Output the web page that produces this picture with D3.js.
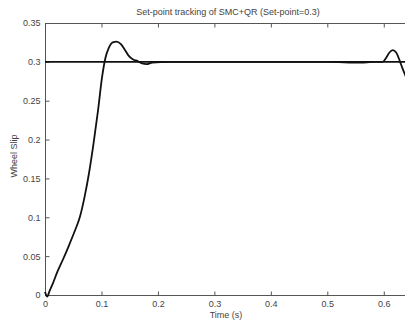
<!DOCTYPE html>
<html>
<head>
<meta charset="utf-8">
<script src="https://cdn.jsdelivr.net/npm/d3@7"></script>
<style>
  html, body { margin: 0; padding: 0; background: #fff; }
  svg { display: block; }
  text { font-family: "Liberation Sans", Arial, sans-serif; fill: #444; }
</style>
</head>
<body>
<svg id="chart" width="405" height="321"></svg>
<script>
// Wheel slip response of the SMC+QR controller
const timeValues = [0, 0.004, 0.008, 0.014, 0.022, 0.032, 0.042, 0.052, 0.062, 0.07, 0.078, 0.086, 0.094, 0.101, 0.107, 0.113, 0.12, 0.127, 0.134, 0.141, 0.148, 0.156, 0.164, 0.172, 0.18, 0.19, 0.22, 0.3, 0.4, 0.5, 0.56, 0.58, 0.598, 0.604, 0.61, 0.616, 0.622, 0.628, 0.633, 0.638, 0.645];
const slipValues = [0.004, -0.002, 0.005, 0.015, 0.03, 0.046, 0.063, 0.081, 0.101, 0.126, 0.157, 0.195, 0.238, 0.28, 0.305, 0.318, 0.325, 0.326, 0.323, 0.316, 0.308, 0.303, 0.301, 0.298, 0.297, 0.299, 0.3, 0.3, 0.3, 0.3, 0.299, 0.3, 0.3, 0.305, 0.312, 0.315, 0.312, 0.302, 0.292, 0.283, 0.27];
const setPoint = 0.3;
const xTicks = [0, 0.1, 0.2, 0.3, 0.4, 0.5, 0.6];
const yTicks = [0, 0.05, 0.1, 0.15, 0.2, 0.25, 0.3, 0.35];
const titleText = "Set-point tracking of SMC+QR (Set-point=0.3)";
const xLabel = "Time (s)";
const yLabel = "Wheel Slip";

const svg = d3.select("#chart");
const plotL = 45, plotT = 23, plotB = 295, plotR = 412;

const x = d3.scaleLinear().domain([0, 0.65]).range([plotL, plotR]);
const y = d3.scaleLinear().domain([0, 0.35]).range([plotB, plotT]);

const axisColor = "#555";

// Frame: left, top and bottom edges
const frame = svg.append("g").attr("stroke", axisColor).attr("stroke-width", 1).attr("fill", "none");
frame.append("line").attr("x1", plotL + 0.5).attr("x2", plotL + 0.5).attr("y1", plotT).attr("y2", plotB);
frame.append("line").attr("x1", plotL).attr("x2", plotR).attr("y1", plotT + 0.5).attr("y2", plotT + 0.5);
frame.append("line").attr("x1", plotL).attr("x2", plotR).attr("y1", plotB + 0.5).attr("y2", plotB + 0.5);

// Inward ticks
const xAxisB = d3.axisBottom(x).tickValues(xTicks).tickSizeInner(-4).tickSizeOuter(0)
  .tickPadding(5).tickFormat(d => d3.format("")(d));
const gxb = svg.append("g").attr("transform", `translate(0,${plotB + 0.5})`).call(xAxisB);
const xAxisT = d3.axisTop(x).tickValues(xTicks).tickSizeInner(-4).tickSizeOuter(0).tickFormat("");
const gxt = svg.append("g").attr("transform", `translate(0,${plotT + 0.5})`).call(xAxisT);
const yAxis = d3.axisLeft(y).tickValues(yTicks).tickSizeInner(-4).tickSizeOuter(0)
  .tickPadding(5).tickFormat(d => d3.format("")(d));
const gy = svg.append("g").attr("transform", `translate(${plotL + 0.5},0)`).call(yAxis);

[gxb, gxt, gy].forEach(g => {
  g.select(".domain").remove();
  g.selectAll(".tick line").attr("stroke", axisColor);
  g.selectAll(".tick text").attr("font-size", 9).attr("fill", "#444")
    .attr("font-family", "'Liberation Sans', Arial, sans-serif");
});

// Set-point reference line
svg.append("line")
  .attr("x1", x(0)).attr("x2", x(0.65))
  .attr("y1", y(setPoint)).attr("y2", y(setPoint))
  .attr("stroke", "#111").attr("stroke-width", 1.8);

// Slip response
const pts = timeValues.map((t, i) => [t, slipValues[i]]);
svg.append("path")
  .datum(pts)
  .attr("fill", "none")
  .attr("stroke", "#111")
  .attr("stroke-width", 1.8)
  .attr("d", d3.line().x(d => x(d[0])).y(d => y(d[1])).curve(d3.curveMonotoneX));

// Labels
svg.append("text").attr("x", 228).attr("y", 15).attr("text-anchor", "middle")
  .attr("font-size", 9).text(titleText);
svg.append("text").attr("x", 226).attr("y", 318).attr("text-anchor", "middle")
  .attr("font-size", 9).text(xLabel);
svg.append("text").attr("transform", "translate(17,156) rotate(-90)").attr("text-anchor", "middle")
  .attr("font-size", 9).text(yLabel);
</script>
</body>
</html>
